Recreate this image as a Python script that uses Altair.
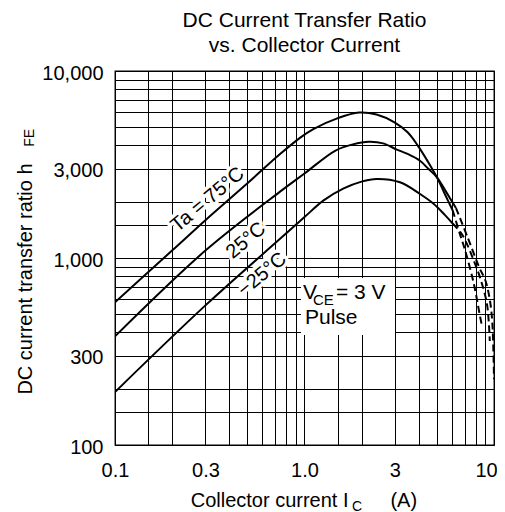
import altair as alt
import pandas as pd

# ---------------- data ----------------
ic_75_solid = [0.1, 0.2, 0.3, 0.5, 0.743, 0.946, 1.113, 1.5, 1.94, 2.4, 3.0, 3.5, 3.97, 4.5, 5.0, 5.5, 6.05]
hfe_75_solid = [580, 1096, 1594, 2510, 3594, 4390, 4890, 5600, 6000, 5850, 5300, 4700, 3980, 3250, 2700, 2200, 1800]
ic_75_dash = [6.05, 6.6, 7.0, 7.8, 8.4, 8.65]
hfe_75_dash = [1800, 1350, 1120, 740, 500, 430]

ic_25_solid = [0.1, 0.3, 0.743, 1.0, 1.45, 1.8, 2.19, 2.6, 3.07, 3.5, 4.07, 4.5, 5.0, 5.6, 6.3]
hfe_25_solid = [381, 1096, 2264, 2830, 3745, 4050, 4180, 4100, 3800, 3600, 3311, 3000, 2700, 2250, 1850]
ic_25_dash = [6.3, 7.3, 8.4, 9.0, 9.5, 9.8, 10.0]
hfe_25_dash = [1850, 1270, 880, 760, 600, 450, 225]

ic_m25_solid = [0.1, 0.3, 0.743, 1.0, 1.256, 1.6, 2.0, 2.4, 3.19, 4.07, 4.8, 5.5, 6.05]
hfe_m25_solid = [192, 558, 1266, 1655, 2027, 2350, 2560, 2645, 2540, 2200, 1950, 1700, 1530]
ic_m25_dash = [6.05, 6.8, 7.9, 8.6, 9.2, 9.5]
hfe_m25_dash = [1530, 1330, 944, 740, 560, 360]

curve_labels = ["Ta = 75°C", "25°C", "\u221225°C"]
curve_label_ic = [0.308, 0.491, 0.597]
curve_label_hfe = [2051, 1240, 817]

x_grid = [0.1, 0.15, 0.2, 0.3, 0.4, 0.5, 0.6, 0.7, 0.8, 0.9,
          1, 1.5, 2, 3, 4, 5, 6, 7, 8, 9, 10]
y_grid = [100, 150, 200, 300, 400, 500, 600, 700, 800, 900,
          1000, 1500, 2000, 3000, 4000, 5000, 6000, 7000, 8000, 9000, 10000]
x_tick_values = [0.1, 0.3, 1, 3, 10]
x_tick_text = ["0.1", "0.3", "1.0", "3", "10"]
y_tick_values = [100, 300, 1000, 3000, 10000]
y_tick_text = ["100", "300", "1,000", "3,000", "10,000"]

title_lines = ["DC Current Transfer Ratio", "vs. Collector Current"]

FONT = "Liberation Sans"


def lab_expr(vals, texts):
    parts = [f"datum.value == {v} ? '{t}'" for v, t in zip(vals, texts)]
    return " : ".join(parts) + " : ''"


def mk(ic, hfe, name, style):
    return pd.DataFrame({"ic": ic, "hfe": hfe, "series": name, "style": style})


curves = pd.concat([
    mk(ic_75_solid, hfe_75_solid, "75", "solid"),
    mk(ic_75_dash, hfe_75_dash, "75", "dash"),
    mk(ic_25_solid, hfe_25_solid, "25", "solid"),
    mk(ic_25_dash, hfe_25_dash, "25", "dash"),
    mk(ic_m25_solid, hfe_m25_solid, "-25", "solid"),
    mk(ic_m25_dash, hfe_m25_dash, "-25", "dash"),
], ignore_index=True)

x_scale = alt.Scale(type="log", domain=[0.1, 10], nice=False)
y_scale = alt.Scale(type="log", domain=[100, 10000], nice=False)

x_axis = alt.Axis(
    values=x_grid, labelExpr=lab_expr(x_tick_values, x_tick_text), title=None,
    grid=True, gridColor="black", gridWidth=1, gridOpacity=1,
    ticks=False, tickSize=0, domain=False,
    labelFont=FONT, labelFontSize=20, labelColor="black", labelPadding=15,
    labelBaseline="top", labelAlign="center", labelFlush=False,
    labelOverlap=False, labelBound=False,
    labelOffset={"condition": {"test": "datum.value == 10", "value": -8}, "value": 0},
)
y_axis = alt.Axis(
    values=y_grid, labelExpr=lab_expr(y_tick_values, y_tick_text), title=None,
    grid=True, gridColor="black", gridWidth=1, gridOpacity=1,
    ticks=False, tickSize=0, domain=False,
    labelFont=FONT, labelFontSize=20, labelColor="black", labelPadding=12,
    labelBaseline="middle", labelAlign="right", labelFlush=False,
    labelOverlap=False, labelBound=False, labelOffset=2,
)

X = alt.X("ic:Q", scale=x_scale, axis=x_axis)
Y = alt.Y("hfe:Q", scale=y_scale, axis=y_axis)

one = pd.DataFrame({"d": [0]})

base = alt.Chart(curves)
solid = base.transform_filter("datum.style == 'solid'").mark_line(
    color="black", strokeWidth=2, interpolate="catmull-rom", clip=True
).encode(x=X, y=Y, detail="series:N")
dashed = base.transform_filter("datum.style == 'dash'").mark_line(
    color="black", strokeWidth=2, interpolate="catmull-rom", strokeDash=[7, 4], clip=True
).encode(x=X, y=Y, detail="series:N")

lab_df = pd.DataFrame({"ic": curve_label_ic, "hfe": curve_label_hfe, "t": curve_labels})
halo = alt.Chart(lab_df).mark_text(
    font=FONT, fontSize=20, angle=320, align="center", baseline="middle",
    fill="white", stroke="white", strokeWidth=7, strokeJoin="round"
).encode(x=X, y=Y, text="t:N")
labels = alt.Chart(lab_df).mark_text(
    font=FONT, fontSize=20, angle=320, align="center", baseline="middle", color="black"
).encode(x=X, y=Y, text="t:N")

box = alt.Chart(one).mark_rect(color="white").encode(
    x=alt.value(186), x2=alt.value(280), y=alt.value(207), y2=alt.value(264)
)


def txt(s, x, y, size=20, angle=0, align="left", baseline="alphabetic"):
    kw = dict(text=s, font=FONT, fontSize=size, align=align, baseline=baseline, color="black")
    if angle:
        kw["angle"] = angle
    return alt.Chart(one).mark_text(**kw).encode(x=alt.value(x), y=alt.value(y))


annots = [
    txt("V", 188, 228, 21),
    txt("CE", 198, 234, 15),
    txt("= 3 V", 221, 228, 21),
    txt("Pulse", 190, 253, 21),
    txt(title_lines[0], 189.5, -44.3, 21, align="center"),
    txt(title_lines[1], 189.5, -19.3, 21, align="center"),
    txt("Collector current", 75.7, 436, 20),
    txt("I", 228, 436, 20),
    txt("C", 237, 439.5, 14),
    txt("(A)", 275.4, 436, 20),
    txt("DC current transfer ratio  h", -83, 323.6, 20, angle=270),
    txt("FE", -81, 75.7, 14, angle=270),
]

chart = alt.layer(box, halo, solid, dashed, labels, *annots).properties(
    width=379, height=374,
    autosize=alt.AutoSizeParams(type="none"),
    padding={"left": 107, "top": 63, "right": 3, "bottom": 70},
).configure_view(stroke="black", strokeWidth=1.3)

chart.save("out.html", embed_options={"renderer": "svg", "actions": False})
